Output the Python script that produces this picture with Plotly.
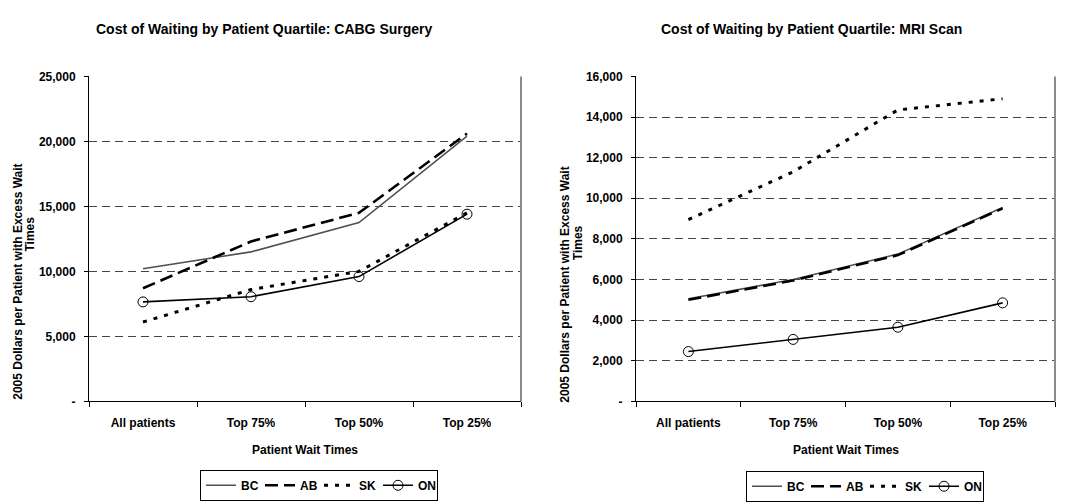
import plotly.graph_objects as go

categories = ["All patients", "Top 75%", "Top 50%", "Top 25%"]

cabg_bc = [10200, 11500, 13750, 20400]
cabg_ab = [8700, 12300, 14500, 20600]
cabg_sk = [6100, 8600, 10000, 14500]
cabg_on = [7650, 8050, 9600, 14400]

mri_bc = [5050, 6000, 7250, 9550]
mri_ab = [5000, 5950, 7200, 9500]
mri_sk = [8950, 11300, 14350, 14900]
mri_on = [2450, 3050, 3650, 4850]

cabg_tickvals = [0, 5000, 10000, 15000, 20000, 25000]
cabg_ticktext = ["-", "5,000", "10,000", "15,000", "20,000", "25,000"]
mri_tickvals = [0, 2000, 4000, 6000, 8000, 10000, 12000, 14000, 16000]
mri_ticktext = ["-", "2,000", "4,000", "6,000", "8,000", "10,000", "12,000", "14,000", "16,000"]

title_left = "Cost of Waiting by Patient Quartile: CABG Surgery"
title_right = "Cost of Waiting by Patient Quartile: MRI Scan"
x_title = "Patient Wait Times"
y_title_1 = "2005 Dollars per Patient with Excess Wait"
y_title_2 = "Times"

W, H = 1068, 502
FONT = "Liberation Sans Narrow, Arial Narrow, Liberation Sans, Arial, sans-serif"


def px(x):
    return x / W


def py(y):
    return 1 - y / H


styles = {
    "BC": dict(line=dict(color="#505050", width=1.6), mode="lines"),
    "AB": dict(line=dict(color="black", width=2.6, dash="13px,6px"), mode="lines"),
    "SK": dict(line=dict(color="black", width=3, dash="4px,7px"), mode="lines"),
    "ON": dict(line=dict(color="black", width=1.6), mode="lines+markers",
               marker=dict(symbol="circle-open", size=10, color="black",
                           line=dict(width=1, color="black"))),
}

fig = go.Figure()

series_left = {"BC": cabg_bc, "AB": cabg_ab, "SK": cabg_sk, "ON": cabg_on}
series_right = {"BC": mri_bc, "AB": mri_ab, "SK": mri_sk, "ON": mri_on}

for name, vals in series_left.items():
    fig.add_trace(go.Scatter(x=categories, y=vals, name=name, xaxis="x", yaxis="y",
                             legend="legend", **styles[name]))
for name, vals in series_right.items():
    fig.add_trace(go.Scatter(x=categories, y=vals, name=name, xaxis="x2", yaxis="y2",
                             legend="legend2", **styles[name]))

tickfont = dict(family=FONT, size=12, color="black", weight="bold")

xcommon = dict(type="category", range=[-0.5, 3.5], tickson="boundaries", ticks="outside",
               ticklen=5, tickcolor="black", showline=True, linecolor="black", linewidth=1,
               showgrid=False, zeroline=False, tickfont=tickfont, ticklabelstandoff=10,
               fixedrange=True)
ycommon = dict(showline=True, linecolor="black", linewidth=1, ticks="outside", ticklen=4,
               tickcolor="black", showgrid=True, gridcolor="#444", gridwidth=1,
               griddash="8px,5px", zeroline=False, tickfont=tickfont, ticklabelstandoff=6,
               fixedrange=True)

legend_common = dict(orientation="h", xanchor="left", yanchor="top",
                     bordercolor="black", borderwidth=1, bgcolor="white",
                     font=dict(family=FONT, size=12, color="black", weight="bold"),
                     itemwidth=30, tracegroupgap=0, entrywidth=14, entrywidthmode="pixels")

fig.update_layout(
    width=W, height=H,
    margin=dict(l=0, r=0, t=0, b=0),
    paper_bgcolor="white", plot_bgcolor="white",
    xaxis=dict(domain=[px(89), px(521)], anchor="y", **xcommon),
    yaxis=dict(domain=[py(409), py(72)], anchor="x", range=[0, 25000],
               tickvals=cabg_tickvals, ticktext=cabg_ticktext, **ycommon),
    xaxis2=dict(domain=[px(636), px(1055)], anchor="y2", **xcommon),
    yaxis2=dict(domain=[py(409), py(72)], anchor="x2", range=[0, 16000],
                tickvals=mri_tickvals, ticktext=mri_ticktext, **ycommon),
    legend=dict(x=px(200), y=py(480), **legend_common),
    legend2=dict(x=px(746), y=py(481), **legend_common),
    showlegend=True,
)

# right plot-area border (gray)
for xr, yr in (("x domain", "y domain"), ("x2 domain", "y2 domain")):
    fig.add_shape(type="line", xref=xr, yref=yr, x0=1, x1=1, y0=0, y1=1,
                  line=dict(color="#8c8c8c", width=2))

ann_font_title = dict(family=FONT, size=14, color="black", weight="bold")
ann_font = dict(family=FONT, size=12, color="black", weight="bold")

annotations = [
    dict(text=title_left, x=px(264), y=py(23), font=ann_font_title),
    dict(text=title_right, x=px(811), y=py(23), font=ann_font_title),
    dict(text=x_title, x=px(305), y=py(459), font=ann_font),
    dict(text=x_title, x=px(846), y=py(459), font=ann_font),
    dict(text=y_title_1, x=px(18), y=py(285), font=ann_font, textangle=-90),
    dict(text=y_title_2, x=px(30), y=py(236), font=ann_font, textangle=-90),
    dict(text=y_title_1, x=px(565), y=py(288), font=ann_font, textangle=-90),
    dict(text=y_title_2, x=px(578), y=py(245), font=ann_font, textangle=-90),
]
for a in annotations:
    fig.add_annotation(xref="paper", yref="paper", showarrow=False,
                       xanchor="center", yanchor="middle", **a)

fig.write_html("out.html", config={"displayModeBar": False},
               post_script="document.body.style.margin='0';document.body.style.overflow='hidden';")
